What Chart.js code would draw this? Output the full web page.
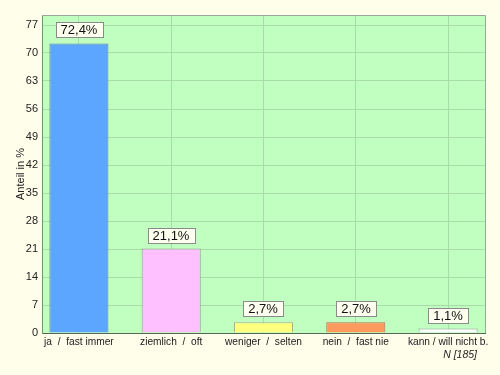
<!DOCTYPE html>
<html><head><meta charset="utf-8">
<script src="https://cdn.jsdelivr.net/npm/chart.js@4"></script>
<style>html,body{margin:0;padding:0;background:#FFFEEB;}#wrap{width:500px;height:375px;}</style>
</head><body><div id="wrap"><canvas id="c" width="500" height="375"></canvas></div>
<script>
const categories = ["ja  /  fast immer", "ziemlich  /  oft", "weniger  /  selten", "nein  /  fast nie", "kann / will nicht b."];
const values = [72.4, 21.1, 2.7, 2.7, 1.1];
const valueLabels = ["72,4%", "21,1%", "2,7%", "2,7%", "1,1%"];
const yTicks = [0, 7, 14, 21, 28, 35, 42, 49, 56, 63, 70, 77];
const colors = ["#5CA6FF", "#FFC0FF", "#FFFF80", "#FF9A5E", "#FFFFFF"];
const borders = ["#5A7FA8", "#999999", "#AAAA88", "#B07050", "#999999"];
const sampleNote = "N [185]";

const FONT = "'Liberation Sans', Arial, sans-serif";

const plotBg = {
  id: 'plotBg',
  beforeDraw(chart) {
    const {ctx, chartArea: a} = chart;
    ctx.save();
    ctx.fillStyle = '#C0FFC0';
    ctx.fillRect(a.left, a.top, a.right - a.left, a.bottom - a.top);
    ctx.restore();
  },
  afterDatasetsDraw(chart) {
    const {ctx, chartArea: a} = chart;
    ctx.save();
    ctx.strokeStyle = '#9AA89A';
    ctx.lineWidth = 1;
    ctx.beginPath();
    ctx.moveTo(a.left, a.top + 0.5); ctx.lineTo(a.right + 0.5, a.top + 0.5);
    ctx.lineTo(a.right + 0.5, a.bottom);
    ctx.stroke();
    const meta = chart.getDatasetMeta(0);
    ctx.font = '13px ' + FONT;
    ctx.textAlign = 'center';
    ctx.textBaseline = 'middle';
    meta.data.forEach((bar, i) => {
      const t = valueLabels[i];
      const w = ctx.measureText(t).width + 10;
      const h = 15;
      const cx = Math.round(bar.x);
      const bottom = Math.round(bar.y) - 6;
      const x0 = Math.round(cx - w / 2) + 0.5, y0 = bottom - h + 0.5;
      ctx.fillStyle = '#FFFFF0';
      ctx.fillRect(x0, y0, Math.round(w), h);
      ctx.strokeStyle = '#8A8A8A';
      ctx.strokeRect(x0, y0, Math.round(w), h);
      ctx.fillStyle = '#111';
      ctx.fillText(t, cx, y0 + h / 2 + 0.5);
    });
    ctx.font = 'italic 10.5px ' + FONT;
    ctx.textAlign = 'right';
    ctx.fillStyle = '#222';
    ctx.fillText(sampleNote, 477, 355);
    ctx.restore();
  }
};

new Chart(document.getElementById('c'), {
  type: 'bar',
  data: {
    datasets: [{
      data: values.map((v, i) => ({x: i, y: v})),
      backgroundColor: colors,
      borderColor: borders,
      borderWidth: 1,
      barPercentage: 0.64,
      categoryPercentage: 1
    }]
  },
  plugins: [plotBg],
  options: {
    responsive: false,
    animation: false,
    layout: {padding: {left: 0, right: 15, top: 15, bottom: 0}},
    plugins: {legend: {display: false}, tooltip: {enabled: false}},
    scales: {
      x: {
        type: 'linear',
        offset: false,
        min: -0.4, max: 4.4,
        afterBuildTicks: s => { s.ticks = categories.map((c, i) => ({value: i})); },
        afterFit: s => { s.height = 42; },
        ticks: {
          callback: v => categories[v] ?? '',
          color: '#222', font: {size: 10.2, family: FONT}, padding: 3, maxRotation: 0, autoSkip: false
        },
        grid: {color: '#A8DCA8', drawTicks: false, offset: false},
        border: {color: '#556655', width: 1}
      },
      y: {
        min: 0, max: 79.5,
        afterBuildTicks: s => { s.ticks = yTicks.map(v => ({value: v})); },
        afterFit: s => { s.width = 42; },
        ticks: {color: '#222', font: {size: 11, family: FONT}, padding: 4},
        grid: {color: '#A8DCA8', drawTicks: false},
        border: {color: '#6A9A6A', width: 1},
        title: {display: true, text: 'Anteil in %', color: '#222', font: {size: 11, family: FONT}, padding: {top: 14, bottom: 0}}
      }
    }
  }
});
</script></body></html>
